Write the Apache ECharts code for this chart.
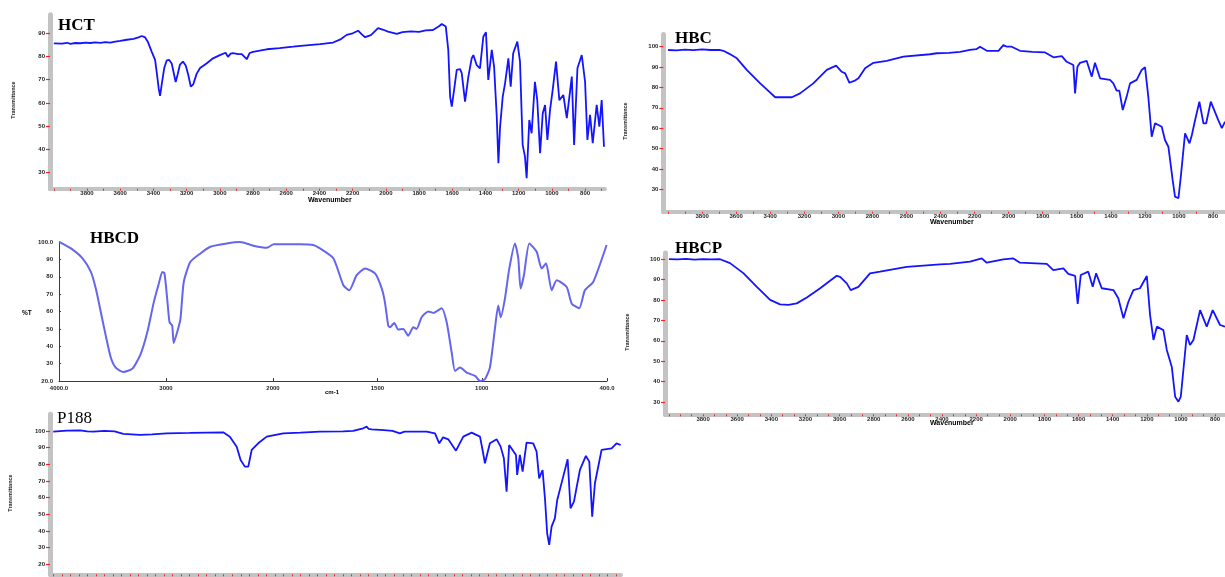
<!DOCTYPE html>
<html>
<head>
<meta charset="utf-8">
<script src="https://cdn.jsdelivr.net/npm/echarts@6/dist/echarts.min.js"></script>
<style>
  html, body { margin: 0; padding: 0; background: #ffffff; }
  #c { width: 1225px; height: 577px; }
</style>
</head>
<body>
<div id="c"></div>
<script>
// FTIR spectra, each point is [wavenumber (cm-1), transmittance (%)]
const HCT = [
  [4000,85.6],[3990,85.7],[3950,85.5],[3920,85.9],[3900,85.4],[3870,85.8],[3840,85.7],[3810,86.0],
  [3780,85.8],[3750,86.1],[3720,85.9],[3690,86.2],[3660,86.0],[3630,86.4],[3600,86.7],[3560,87.2],
  [3520,87.6],[3490,88.2],[3470,88.8],[3450,88.2],[3433,86.2],[3410,82],[3390,78.5],[3378,72],
  [3368,66],[3360,63],[3350,68],[3335,75],[3320,78.3],[3305,78.5],[3290,77],[3275,72],[3266,69],
  [3255,72],[3240,76.5],[3222,77.8],[3205,76],[3190,72],[3175,67],[3169,66.3],[3160,68],[3140,72.5],
  [3119,75],[3080,77],[3041,79.2],[3000,80.6],[2965,81.6],[2951,79.8],[2935,81.2],[2920,81.4],
  [2890,81.0],[2868,81.0],[2838,78.8],[2820,81.5],[2800,82],[2760,82.5],[2717,83.1],[2640,83.6],
  [2559,84.2],[2480,84.8],[2396,85.3],[2318,86],[2270,87.5],[2236,89.3],[2200,90],[2167,91.1],
  [2145,89.5],[2125,88.3],[2090,89.2],[2047,92.2],[2015,91.5],[1987,90.7],[1934,89.7],[1900,90.5],
  [1850,90.8],[1800,90.6],[1760,91.2],[1716,91.4],[1680,93],[1663,94],[1639,92.9],[1624,82.8],
  [1613,62.7],[1603,58.4],[1589,65.6],[1573,74.2],[1553,74.5],[1543,72.8],[1523,60.5],[1503,71.3],
  [1483,79.2],[1473,80.6],[1453,76.3],[1433,74.9],[1413,88.5],[1397,90.4],[1383,69.9],[1362,82.8],
  [1348,75.6],[1332,54],[1322,34],[1312,49.7],[1296,62.7],[1282,68.4],[1262,79.2],[1248,67],
  [1233,81.4],[1208,86.4],[1192,77.8],[1176,41.9],[1162,36.8],[1152,27.5],[1136,52.6],[1122,46.9],
  [1102,69.1],[1088,61.2],[1071,38.3],[1055,55.5],[1041,59.1],[1027,44],[1011,57],[995,65.6],
  [975,77.8],[955,61.2],[931,63.4],[910,53.4],[880,71.3],[866,41.9],[846,74.9],[820,80.6],
  [800,69.1],[786,44],[770,54.8],[754,42.6],[730,59.1],[714,49.7],[700,61.2],[686,41.1]
];

const HBC = [
  [4000,98.4],[3950,98.2],[3900,98.6],[3850,98.3],[3800,98.7],[3750,98.4],[3700,98.5],[3675,98],
  [3640,96.5],[3596,94.3],[3538,88.6],[3459,82],[3400,77.5],[3371,75.2],[3273,75.2],[3225,77.1],
  [3147,82],[3068,88.6],[3013,90.7],[2980,87.7],[2960,86.9],[2935,82.3],[2900,83.5],[2882,84.5],
  [2843,89.4],[2794,92.1],[2716,93.1],[2618,95.1],[2461,96.3],[2422,96.8],[2350,97],[2285,97.5],
  [2227,98.4],[2190,98.8],[2168,100],[2128,98],[2060,98],[2031,100.8],[2010,100],[1982,100],
  [1933,98],[1860,97.5],[1786,97.2],[1737,94.8],[1688,95.4],[1659,92.6],[1620,91],[1610,77.1],
  [1596,90.2],[1581,92.1],[1542,93.1],[1512,85.3],[1493,92.1],[1463,84.5],[1405,83.7],[1385,82],
  [1366,78.4],[1350,78.4],[1330,68.9],[1307,75.5],[1287,82],[1248,83.7],[1219,88.6],[1199,89.9],
  [1180,75.5],[1160,55.8],[1140,62.4],[1101,60.7],[1082,54.2],[1062,50.9],[1037,34.6],[1023,26.4],
  [1003,25.6],[989,36.2],[964,57.5],[938,52.6],[924,56.7],[905,64],[880,73],[856,62.4],[840,62.4],
  [813,73],[769,64],[748,60],[729,63.2]
];

const HBCD = [
  [4000,100],[3988,99.8],[3888,96.3],[3780,90.6],[3702,82.8],[3656,73.2],[3609,59.6],[3563,46.1],
  [3516,33.5],[3470,27.7],[3398,25.2],[3314,27.1],[3237,35.5],[3175,48],[3114,65.4],[3067,76.1],
  [3035,82.8],[3014,81.9],[2989,67.4],[2967,53.8],[2942,51.9],[2928,41.9],[2896,48],[2865,55.8],
  [2834,77],[2772,88.6],[2679,93.4],[2586,97.3],[2431,99.2],[2307,100],[2183,97.9],[2059,96.7],
  [2000,98.7],[1871,98.7],[1807,98.3],[1775,96.3],[1711,90.6],[1663,75.1],[1635,72.2],[1599,80.9],
  [1559,84.8],[1511,81.9],[1479,73.2],[1464,65.4],[1448,51.9],[1440,50.9],[1419,53.4],[1400,49.6],
  [1376,50],[1352,46.1],[1328,50.9],[1312,50],[1288,56.7],[1256,60],[1232,59.2],[1192,61.9],
  [1168,53.8],[1144,36.4],[1128,25.8],[1104,27.7],[1072,24.8],[1032,22.9],[1008,20],[985,21],
  [961,27.7],[937,50],[921,63.5],[909,56.7],[889,67.4],[868,84.8],[841,99.2],[825,90.6],
  [814,73.2],[798,80.9],[772,99.2],[737,94.4],[713,84.8],[692,87.7],[665,72.2],[641,78],
  [593,74.1],[569,64.5],[533,61.9],[506,72.2],[466,77],[402,98.3]
];

const HBCP = [
  [4000,100],[3950,99.8],[3900,100.1],[3850,99.7],[3800,100],[3750,99.8],[3700,99.9],[3642,98],
  [3564,93.1],[3485,86.4],[3407,80],[3349,77.8],[3300,77.6],[3251,78.3],[3192,81.2],[3114,85.7],
  [3017,91.8],[2997,91.3],[2958,88.1],[2935,84.8],[2890,86.4],[2822,93],[2763,93.8],[2607,96.2],
  [2411,97.4],[2353,97.6],[2236,98.7],[2167,100.3],[2138,98.2],[2041,99.8],[1982,100.3],[1943,98.2],
  [1786,97.6],[1748,94.6],[1689,95.4],[1660,92.7],[1620,91.7],[1605,78],[1587,92.2],[1543,93.8],
  [1517,86.4],[1497,93],[1464,85.7],[1396,84.8],[1367,80.8],[1337,71],[1308,79.1],[1279,84.8],
  [1240,85.7],[1200,91.7],[1181,72.6],[1161,60.4],[1141,66.9],[1103,65.2],[1083,55.5],[1054,47.3],
  [1034,32.6],[1015,30.2],[1001,32.6],[966,62.8],[947,57.9],[927,60.4],[888,75],[849,66.9],
  [814,75],[771,67.7],[742,66.9]
];

const P188 = [
  [4000,99.6],[3920,100.2],[3843,100.4],[3800,99.8],[3765,99.6],[3700,100],[3640,99.8],[3589,98.2],
  [3540,98],[3491,97.6],[3420,98],[3335,98.6],[3200,98.8],[3100,99],[3003,99.2],[2964,96.6],
  [2924,90.6],[2901,82.6],[2876,78.6],[2856,78.6],[2836,88.6],[2798,92.6],[2748,96.6],[2651,98.6],
  [2550,99],[2436,99.6],[2300,99.8],[2241,100],[2182,101.6],[2162,102.6],[2150,101.2],[2133,101],
  [2060,100.5],[2010,100],[1967,98.6],[1940,99.6],[1880,99.6],[1810,99.6],[1761,98.6],[1736,92.6],
  [1713,96.2],[1683,95],[1638,88.2],[1595,96.6],[1546,99],[1497,96.6],[1482,88.6],[1468,80.6],
  [1439,92.6],[1399,95],[1376,90.6],[1357,83.6],[1341,63.6],[1326,91.6],[1286,85.6],[1279,73.6],
  [1263,85.6],[1247,75.6],[1224,93],[1185,92.6],[1165,87.6],[1150,71.6],[1130,76.6],[1116,59.6],
  [1103,38.6],[1091,31.6],[1077,42.6],[1058,47.6],[1044,58.6],[1009,72.6],[983,83],[966,53.6],
  [946,57.6],[911,76.6],[876,85],[856,81.6],[839,48.6],[823,68.6],[784,88.6],[725,89.6],
  [696,92.6],[672,91.6]
];

// Tick labels
const WN_LABELS = [3800, 3600, 3400, 3200, 3000, 2800, 2600, 2400, 2200, 2000, 1800, 1600, 1400, 1200, 1000, 800];
const T_LABELS_HCT = [30, 40, 50, 60, 70, 80, 90];
const T_LABELS_HB = [30, 40, 50, 60, 70, 80, 90, 100];
const T_LABELS_P188 = [20, 30, 40, 50, 60, 70, 80, 90, 100];
const T_LABELS_HBCD = [20, 30, 40, 50, 60, 70, 80, 90, 100];
const HBCD_WN_HIGH = [4000, 3000];
const HBCD_WN_LOW = [2000, 1500, 1000, 400];

// tick positions along a wavenumber axis, stepping down from 4000
function tickSteps(from, to, step) {
  const out = [];
  for (let v = from; v >= to - 1e-6; v -= step) out.push(Math.round(v * 100) / 100);
  return out;
}

const GRAY = '#c3c3c3';
const RED = '#ff2020';
const BLUE = '#1414ff';
const plain = v => String(v);
const LABEL_FONT = { fontSize: 6, fontWeight: 'bold', fontFamily: 'Liberation Sans, Arial, sans-serif', color: '#1e1e1e' };

const grids = [], xAxes = [], yAxes = [], series = [];

function addPanel(p) {
  const gi = grids.length;
  grids.push({ left: p.left, top: p.top, width: p.width, height: p.height, containLabel: false, outerBoundsMode: 'none' });
  xAxes.push({
    gridIndex: gi, type: 'value', inverse: true, min: p.xMin, max: p.xMax,
    axisLine: { show: true, onZero: false, lineStyle: { color: GRAY, width: 4 } },
    axisTick: { show: true, customValues: p.xTicks, length: 2, lineStyle: { color: RED, width: 1 } },
    axisLabel: Object.assign({ show: p.showXLabels !== false, customValues: WN_LABELS, margin: 2, formatter: plain }, LABEL_FONT),
    splitLine: { show: false }
  });
  yAxes.push({
    gridIndex: gi, type: 'value', min: p.yMin, max: p.yMax,
    axisLine: { show: true, onZero: false, lineStyle: { color: GRAY, width: 5 } },
    axisTick: { show: true, customValues: p.yLabels, length: 4, lineStyle: { color: RED, width: 1.2 } },
    axisLabel: Object.assign({ customValues: p.yLabels, margin: 5, formatter: plain }, LABEL_FONT),
    splitLine: { show: false }
  });
  series.push({
    type: 'line', xAxisIndex: gi, yAxisIndex: gi, data: p.data,
    showSymbol: false, symbol: 'none', animation: false,
    lineStyle: { color: BLUE, width: 1.8 }
  });
}

// HCT (top left)
addPanel({ left: 50, top: 14.7, width: 555, height: 174, xMin: 680, xMax: 4023, yMin: 23, yMax: 98,
  xTicks: tickSteps(4000, 700, 100), yLabels: T_LABELS_HCT, data: HCT });
// HBC (top right)
addPanel({ left: 663.3, top: 34.5, width: 561.7, height: 177.2, xMin: 729.5, xMax: 4028, yMin: 19, yMax: 106,
  xTicks: tickSteps(4000, 750, 100), yLabels: T_LABELS_HB, data: HBC });
// HBCP (middle right)
addPanel({ left: 665, top: 252.9, width: 560, height: 161.4, xMin: 742, xMax: 4023, yMin: 24, yMax: 103,
  xTicks: tickSteps(4000, 750, 200 / 3), yLabels: T_LABELS_HB, data: HBCP });
// P188 (bottom left)
addPanel({ left: 50, top: 414.3, width: 571, height: 160, xMin: 670, xMax: 4019, yMin: 14, yMax: 110,
  xTicks: tickSteps(4000, 700, 50), yLabels: T_LABELS_P188, data: P188, showXLabels: false });

// HBCD (middle left): instrument-style plot with an expanded scale below 2000 cm-1
const DARK = '#3c3c3c';
const hbcdFmt = v => (v === 4000 || v === 400 || v === 100 || v === 20) ? v.toFixed(1) : String(v);
const hbcdParts = [
  { left: 59, width: 214, min: 2000, max: 4000, labels: HBCD_WN_HIGH, data: HBCD.filter(d => d[0] >= 2000), showY: true },
  { left: 273, width: 334, min: 400, max: 2000, labels: HBCD_WN_LOW, data: HBCD.filter(d => d[0] <= 2000), showY: false }
];
hbcdParts.forEach(part => {
  const gi = grids.length;
  grids.push({ left: part.left, top: 242, width: part.width, height: 139, containLabel: false, outerBoundsMode: 'none' });
  xAxes.push({
    gridIndex: gi, type: 'value', inverse: true, min: part.min, max: part.max,
    axisLine: { show: true, onZero: false, lineStyle: { color: DARK, width: 1 } },
    axisTick: { show: true, inside: true, customValues: part.labels, length: 3, lineStyle: { color: DARK, width: 1 } },
    axisLabel: Object.assign({ customValues: part.labels, margin: 4, formatter: hbcdFmt }, LABEL_FONT),
    splitLine: { show: false }
  });
  yAxes.push({
    gridIndex: gi, type: 'value', min: 20, max: 100, show: part.showY,
    axisLine: { show: true, onZero: false, lineStyle: { color: DARK, width: 1 } },
    axisTick: { show: true, inside: true, customValues: T_LABELS_HBCD, length: 2, lineStyle: { color: DARK, width: 1 } },
    axisLabel: Object.assign({ customValues: T_LABELS_HBCD, margin: 6, formatter: hbcdFmt }, LABEL_FONT),
    splitLine: { show: false }
  });
  series.push({
    type: 'line', xAxisIndex: gi, yAxisIndex: gi, data: part.data,
    showSymbol: false, symbol: 'none', animation: false, smooth: 0.2,
    lineStyle: { color: '#6565ee', width: 2 }
  });
});

const TITLE_FONT = 'bold 17px "Liberation Serif", "Times New Roman", serif';
const AXIS_NAME_FONT = 'bold 7px "Liberation Sans", Arial, sans-serif';
const Y_NAME_FONT = 'bold 5.5px "Liberation Sans", Arial, sans-serif';

function text(x, y, str, font) {
  return {
    type: 'text', x: x, y: y, z: 100,
    style: { text: str, font: font, fill: '#000', textAlign: 'left', textVerticalAlign: 'middle' }
  };
}
function yName(x, y, str) {
  return { type: 'text', x: x, y: y, z: 100, rotation: Math.PI / 2,
    style: { text: str, font: Y_NAME_FONT, fill: '#1e1e1e', textAlign: 'center', textVerticalAlign: 'middle' } };
}

const graphics = [
  text(58, 25.5, 'HCT', TITLE_FONT),
  text(675, 38.5, 'HBC', TITLE_FONT),
  text(90, 239, 'HBCD', TITLE_FONT),
  text(675, 248.5, 'HBCP', TITLE_FONT),
  text(57, 419, 'P188', '17px "Liberation Serif", "Times New Roman", serif'),
  text(308, 200, 'Wavenumber', AXIS_NAME_FONT),
  text(930, 222, 'Wavenumber', AXIS_NAME_FONT),
  text(930, 423, 'Wavenumber', AXIS_NAME_FONT),
  text(22, 313, '%T', 'bold 6.5px "Liberation Sans", Arial, sans-serif'),
  text(325, 392, 'cm-1', 'bold 6px "Liberation Sans", Arial, sans-serif'),
  yName(13, 100, 'Transmittance'),
  yName(625, 121, 'Transmittance'),
  yName(627, 332, 'Transmittance'),
  yName(10, 493, 'Transmittance')
];

const chart = echarts.init(document.getElementById('c'), null, { renderer: 'canvas' });
chart.setOption({
  backgroundColor: '#ffffff',
  animation: false,
  grid: grids,
  xAxis: xAxes,
  yAxis: yAxes,
  series: series,
  graphic: graphics
});
</script>
</body>
</html>
